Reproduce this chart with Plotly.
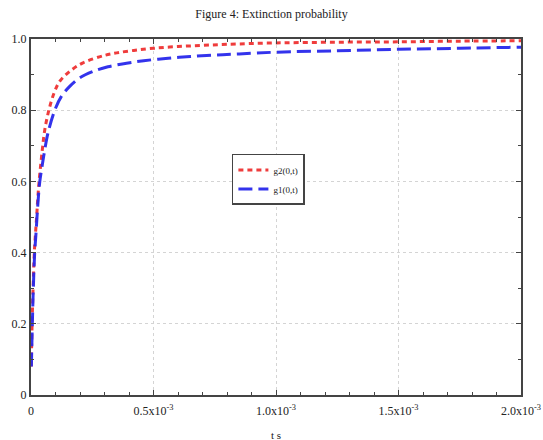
import plotly.graph_objects as go

# Data
g2_t = [1e-6, 4.5e-6, 8.5e-6, 1.35e-5, 1.8e-5, 2.3e-5, 2.75e-5, 3.3e-5, 4.6e-5,
        5.6e-5, 7.3e-5, 9.4e-5, 1.17e-4, 1.58e-4, 2.12e-4, 3e-4, 3.5e-4, 4.2e-4,
        5e-4, 6e-4, 7e-4, 8e-4, 1e-3, 1.25e-3, 1.5e-3, 1.75e-3, 2e-3]
g2 = [0.08, 0.2, 0.3, 0.4, 0.45, 0.5, 0.55, 0.6, 0.688,
      0.744, 0.80, 0.848, 0.881, 0.909, 0.933, 0.954, 0.961, 0.968,
      0.974, 0.979, 0.982, 0.985, 0.989, 0.991, 0.992, 0.994, 0.995]

g1_t = [1.5e-6, 5.5e-6, 9.5e-6, 1.5e-5, 2e-5, 2.45e-5, 2.95e-5, 3.6e-5, 4.7e-5,
        5.6e-5, 6.9e-5, 9.7e-5, 1.24e-4, 1.58e-4, 1.99e-4, 2.53e-4, 3.14e-4,
        3.9e-4, 4.6e-4, 5.6e-4, 6.5e-4, 7.5e-4, 8.5e-4, 1e-3, 1.25e-3, 1.5e-3,
        1.75e-3, 2e-3]
g1 = [0.08, 0.2, 0.3, 0.4, 0.45, 0.5, 0.55, 0.6, 0.65,
      0.688, 0.735, 0.80, 0.839, 0.867, 0.891, 0.909, 0.922,
      0.932, 0.939, 0.946, 0.951, 0.955, 0.958, 0.963, 0.967, 0.971,
      0.974, 0.977]

x_tickvals = [0, 0.5e-3, 1.0e-3, 1.5e-3, 2.0e-3]
x_ticktext = ["0", "0.5x10<sup>-3</sup>", "1.0x10<sup>-3</sup>",
              "1.5x10<sup>-3</sup>", "2.0x10<sup>-3</sup>"]
y_tickvals = [0, 0.2, 0.4, 0.6, 0.8, 1.0]
y_ticktext = ["0", "0.2", "0.4", "0.6", "0.8", "1.0"]

FONT = "Liberation Serif"

fig = go.Figure()
fig.add_trace(go.Scatter(x=g2_t, y=g2, mode="lines", name="g2(0,t)",
                         line=dict(color="rgba(238,50,50,0.95)", width=3,
                                   dash="5px,4px", shape="spline")))
fig.add_trace(go.Scatter(x=g1_t, y=g1, mode="lines", name="g1(0,t)",
                         line=dict(color="rgba(40,40,235,0.95)", width=3,
                                   dash="14px,6px", shape="spline")))

axis_common = dict(showline=True, linecolor="#444", linewidth=2, mirror="allticks",
                   ticks="inside", ticklen=5, tickcolor="#444", automargin=False,
                   showgrid=True, gridcolor="#d4d4d4", griddash="3px,3px", gridwidth=1,
                   zeroline=False, tickfont=dict(family=FONT, size=12, color="#222"))

fig.update_xaxes(range=[0, 2e-3], tickvals=x_tickvals, ticktext=x_ticktext,
                 ticklabelstandoff=4,
                 minor=dict(dtick=1e-4, ticks="inside", ticklen=3, tickcolor="#444",
                            showgrid=False),
                 **axis_common)
fig.update_yaxes(range=[0, 1.0], tickvals=y_tickvals, ticktext=y_ticktext,
                 minor=dict(dtick=0.1, ticks="inside", ticklen=3, tickcolor="#444",
                            showgrid=False),
                 **axis_common)

fig.update_layout(
    width=543, height=440,
    margin=dict(l=31, r=22, t=39, b=45),
    paper_bgcolor="white", plot_bgcolor="white",
    font=dict(family=FONT, color="#222"),
    title=dict(text="Figure 4: Extinction probability", x=0.5, xanchor="center",
               y=1 - 14 / 440, yanchor="middle", yref="container",
               font=dict(family=FONT, size=12, color="#222")),
    legend=dict(x=0.41, y=0.677, xanchor="left", yanchor="top",
                bgcolor="white", bordercolor="#444", borderwidth=1.5,
                font=dict(family=FONT, size=9, color="#222"),
                tracegroupgap=0, itemwidth=30),
    showlegend=True,
    annotations=[dict(text="t s", x=0.5, y=0, xref="paper", yref="paper",
                      yshift=-40, yanchor="middle", showarrow=False,
                      font=dict(family=FONT, size=11, color="#222"))],
)

fig.write_html("out.html", config={"displayModeBar": False},
               post_script="document.body.style.margin='0';document.body.style.overflow='hidden';")
